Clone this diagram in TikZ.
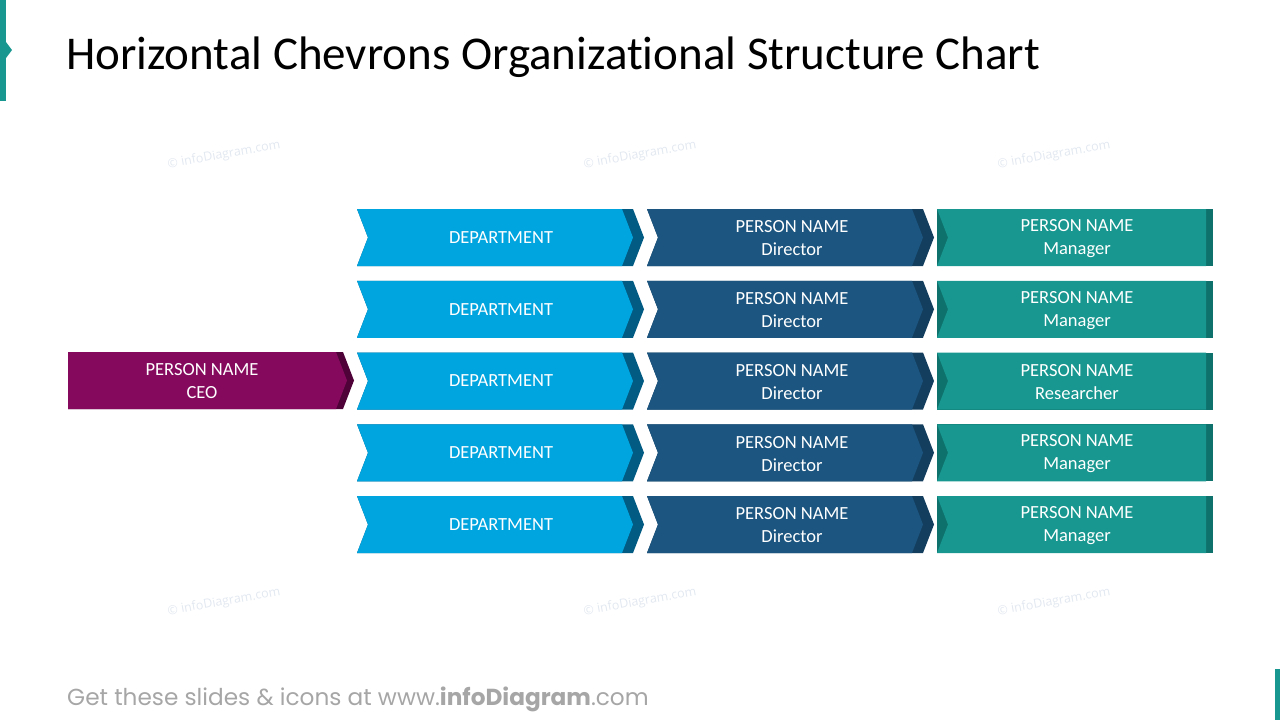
\documentclass[tikz,border=0pt]{standalone}
\usepackage{fontspec}
\setmainfont{Carlito}[Ligatures=CommonOff]
\newfontfamily\footfont{Poppins}
\newfontfamily\markfont{Open Sans}
\usepackage{tikz}
\usetikzlibrary{positioning}

\definecolor{ceoPurple}{HTML}{850A5E}
\definecolor{ceoDark}{HTML}{4E0238}
\definecolor{depBlue}{HTML}{00A4DF}
\definecolor{depDark}{HTML}{015B82}
\definecolor{dirBlue}{HTML}{1B5580}
\definecolor{dirDark}{HTML}{133E5E}
\definecolor{manTeal}{HTML}{17978F}
\definecolor{manDark}{HTML}{0F716B}
\definecolor{markGrey}{HTML}{E2E8F0}
\definecolor{footGrey}{HTML}{A6A6A6}

% chevron: left x, top y, right x, body colour, band colour
\newcommand{\chevron}[5]{%
  \fill[#5] (#1,#2) -- (#3,#2) -- ++(11,28.5) -- ++(-11,28.5) -- (#1,#2+57) -- ++(11,-28.5) -- cycle;
  \fill[#4] (#1,#2) -- (#3-11,#2) -- ++(11,28.5) -- ++(-11,28.5) -- (#1,#2+57) -- ++(11,-28.5) -- cycle;}

\begin{document}
\begin{tikzpicture}[
  x=1pt, y=-1pt,
  lbl/.style={text=white, align=center, inner sep=0pt, font=\fontsize{18.5}{23}\selectfont},
  wmark/.style={text=markGrey, rotate=10, inner sep=0pt, font=\markfont\fontsize{12.5}{14}\selectfont},
]
\useasboundingbox (0,0) rectangle (1280,720);

% corner accents
\fill[manTeal] (0,0) rectangle (6,101);
\fill[manTeal] (6,42) -- (12,50) -- (6,58) -- cycle;
\fill[manTeal] (1275,669) rectangle (1280,720);

\node[anchor=base west, inner sep=0pt, font=\fontsize{47}{52}\selectfont] (title) at (66,69)
  {Horizontal Chevrons Organizational Structure Chart};

% watermarks
\foreach \wx/\wy [count=\k] in {224/155, 640/155, 1054/155, 224/602, 640/602, 1054/602}
  \node[wmark] (mark\k) at (\wx,\wy) {\textcopyright\ infoDiagram.com};

% CEO
\fill[ceoDark] (68,352) -- (343,352) -- ++(11,28.5) -- ++(-11,28.5) -- (68,409) -- cycle;
\fill[ceoPurple] (68,352) -- (336,352) -- ++(11,28.5) -- ++(-11,28.5) -- (68,409) -- cycle;
\node[lbl] (ceo) at (202,381.5) {PERSON NAME\\CEO};

% rows
\foreach \i/\role in {1/Manager, 2/Manager, 3/Researcher, 4/Manager, 5/Manager}{
  \pgfmathsetmacro{\ty}{209+71.75*(\i-1)}
  \chevron{357}{\ty}{633}{depBlue}{depDark}
  \chevron{647}{\ty}{923}{dirBlue}{dirDark}
  \fill[manDark] (937,\ty) rectangle (1213,\ty+57);
  \fill[manTeal] (937,\ty) -- (1206,\ty) -- (1206,\ty+57) -- (937,\ty+57) -- ++(11,-28.5) -- cycle;
  \node[lbl] (dep\i) at (501,\ty+28.5) {DEPARTMENT};
  \node[lbl] (dir\i) at (792,\ty+29.5) {PERSON NAME\\Director};
  \node[lbl] (man\i) at (1077,\ty+29.5) {PERSON NAME\\\role};
}

\node[anchor=base west, inner sep=0pt, text=footGrey, font=\footfont\fontsize{23.2}{27}\selectfont] (footer) at (67,705)
  {Get these slides \& icons at www.\textbf{infoDiagram}.com};
\end{tikzpicture}
\end{document}
